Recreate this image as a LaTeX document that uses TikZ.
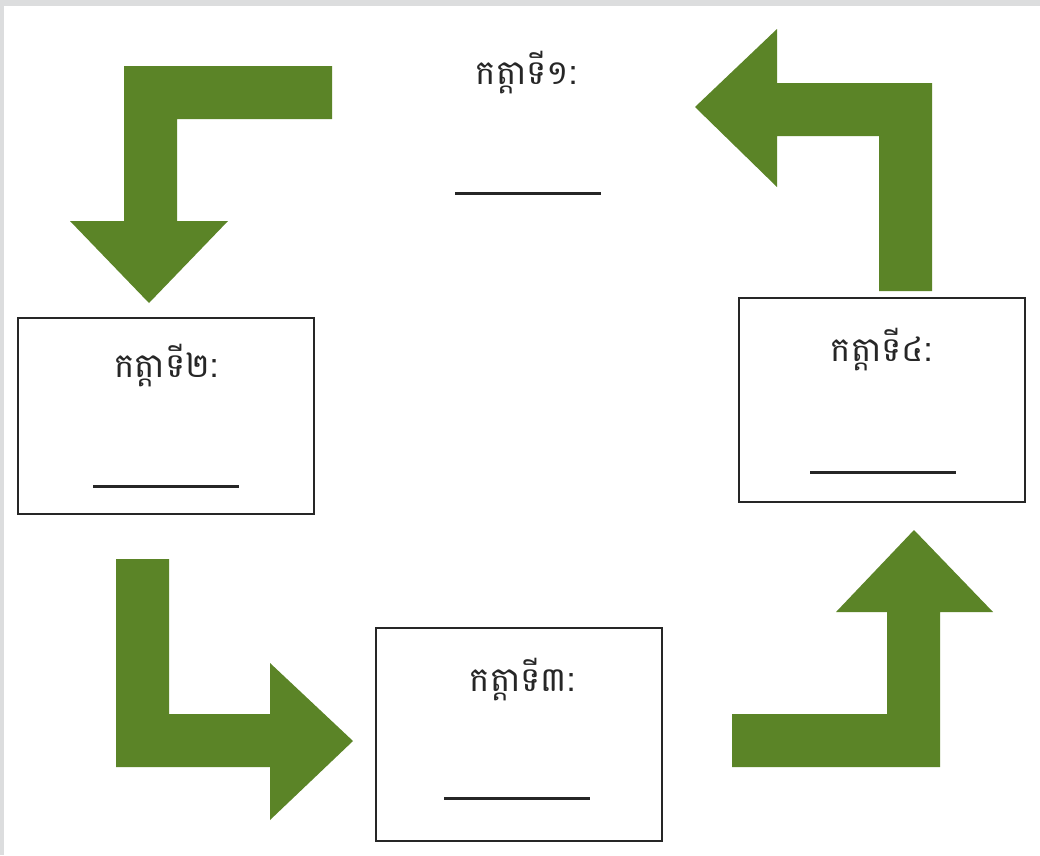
\documentclass[tikz,border=0pt]{standalone}
\usepackage{fontspec}
\newfontfamily\khmerfont[Script=Khmer]{Battambang}
\definecolor{arrowgreen}{HTML}{5B8427}
\definecolor{framegray}{HTML}{DCDDDE}
\begin{document}
\begin{tikzpicture}[x=1pt,y=-1pt,
  stepbox/.style={draw=black!85,line width=1.4pt,fill=white,inner sep=0pt},
  steplabel/.style={font=\khmerfont\fontsize{34}{40}\selectfont,inner sep=0pt,text=black!85},
  blank/.style={line width=3pt,draw=black!85},
  bigarrow/.style={fill=arrowgreen,draw=none}]
\useasboundingbox (0,0) rectangle (1040,855);
\fill[framegray] (0,0) rectangle (1040,855);
\fill[white] (4,6) rectangle (1040,855);
% boxes
\node[stepbox,minimum width=296pt,minimum height=196pt] (b2) at (166,416) {};
\node[stepbox,minimum width=286pt,minimum height=213pt] (b3) at (519,734.5) {};
\node[stepbox,minimum width=286pt,minimum height=204pt] (b4) at (882,400) {};
% labels
\node[steplabel] (t1) at (526,73) {កត្តាទី១:};
\node[steplabel] (t2) at (166,366) {កត្តាទី២:};
\node[steplabel] (t3) at (522,680) {កត្តាទី៣:};
\node[steplabel] (t4) at (881,350) {កត្តាទី៤:};
% blanks
\draw[blank] (455,193) -- (601,193);
\draw[blank] (93,486) -- (239,486);
\draw[blank] (444,798) -- (590,798);
\draw[blank] (810,472) -- (956,472);
% arrows
\fill[bigarrow] (332,66) -- (124,66) -- (124,221) -- (70,221) -- (149,303) -- (228,221) -- (177,221) -- (177,119) -- (332,119) -- cycle;
\fill[bigarrow] (116,559) -- (116,767) -- (270,767) -- (270,820) -- (353,741) -- (270,663) -- (270,714) -- (169,714) -- (169,559) -- cycle;
\fill[bigarrow] (732,767) -- (940,767) -- (940,612) -- (993,612) -- (914,530) -- (836,612) -- (887,612) -- (887,714) -- (732,714) -- cycle;
\fill[bigarrow] (932,291) -- (932,83) -- (777,83) -- (777,29) -- (695,107) -- (777,187) -- (777,136) -- (879,136) -- (879,291) -- cycle;
\end{tikzpicture}
\end{document}
